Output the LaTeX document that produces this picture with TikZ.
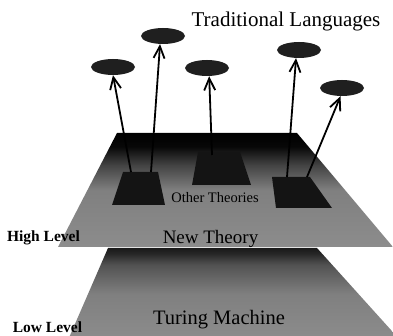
\documentclass[tikz,border=0pt]{standalone}
\usepackage{fontspec}
\setmainfont{Liberation Serif}
\usetikzlibrary{shapes.geometric,arrows.meta}

% vertical gradients for the two layers (path box maps to 25bp..75bp)
\pgfdeclareverticalshading{highplane}{100bp}{color(0bp)=(black!45); color(25bp)=(black!45); color(50bp)=(black!50); color(61bp)=(black!74); color(69bp)=(black!97); color(75bp)=(black); color(100bp)=(black)}
\pgfdeclareverticalshading{lowplane}{100bp}{color(0bp)=(black!45); color(25bp)=(black!45); color(50bp)=(black!50); color(66bp)=(black!68); color(72bp)=(black!85); color(75bp)=(black!90); color(100bp)=(black!90)}

\tikzset{
  lang/.style={ellipse, fill=black!88, minimum width=44pt, minimum height=16pt, inner sep=0pt},
  theory/.style={fill=black!92},
  up/.style={line width=1.8pt, -{Straight Barb[length=12pt,width=11pt,line width=1.8pt]}},
  big/.style={inner sep=0pt, anchor=base, font=\fontsize{21}{25}\selectfont},
  mid/.style={inner sep=0pt, anchor=base, font=\fontsize{19}{23}\selectfont},
  small/.style={inner sep=0pt, anchor=base, font=\fontsize{14.5}{17}\selectfont},
  side/.style={inner sep=0pt, anchor=base, font=\bfseries\fontsize{15.5}{18}\selectfont}
}

\begin{document}
\begin{tikzpicture}[x=1pt,y=-1pt]
\useasboundingbox (0,0) rectangle (393,336);
\clip (0,0) rectangle (393,336);

% lower layer
\shade[shading=lowplane] (108,248) -- (317,248) -- (400,340) -- (68,340) -- cycle;
% upper layer
\shade[shading=highplane] (117,133) -- (297,133) -- (393,247) -- (58,247) -- cycle;

% theories lying on the upper layer
\fill[theory] (123,172) -- (158,172) -- (165,205) -- (112,205) -- cycle;
\fill[theory] (198,152) -- (240,152) -- (251,185) -- (192,185) -- cycle;
\fill[theory] (272,177) -- (310,177) -- (332,208) -- (276,208) -- cycle;

% arrow tails on the theories
\coordinate (t1) at (131,172);
\coordinate (t2) at (151,172);
\coordinate (t3) at (212,155);
\coordinate (t4) at (287,177);
\coordinate (t5) at (307,177);

% traditional languages
\node[lang] (e1) at (113,67) {};
\node[lang] (e2) at (163,36) {};
\node[lang] (e3) at (207,68) {};
\node[lang] (e4) at (299,50) {};
\node[lang] (e5) at (342,88) {};

\draw[up] (t1) -- (e1.south);
\draw[up] (t2) -- (e2.250);
\draw[up] (t3) -- (e3.-75);
\draw[up] (t4) -- (e4.-110);
\draw[up] (t5) -- (e5.-100);

% labels
\node[big] (tl) at (286,27) {Traditional Languages};
\node[small] (ot) at (215,202.5) {Other Theories};
\node[mid] (nt) at (210.5,244) {New Theory};
\node[mid, font=\fontsize{20.5}{24}\selectfont] (tm) at (219,324) {Turing Machine};
\node[side] (hl) at (43.5,241.5) {High Level};
\node[side] (ll) at (47.5,332) {Low Level};
\end{tikzpicture}
\end{document}
